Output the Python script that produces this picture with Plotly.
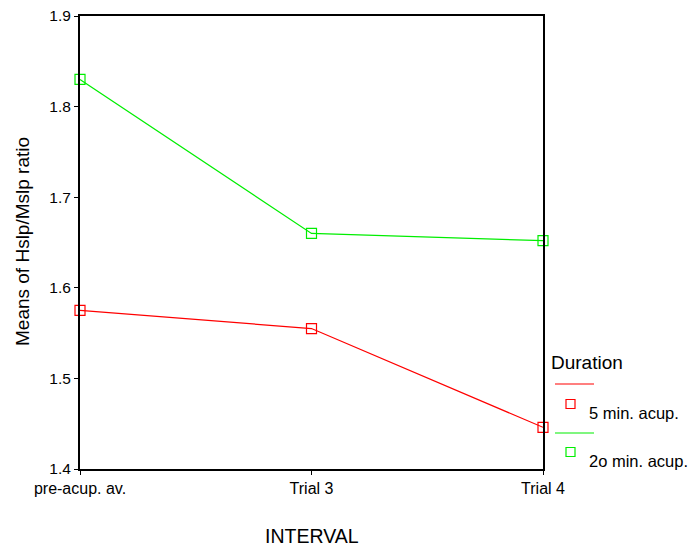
import plotly.graph_objects as go

categories = ["pre-acup. av.", "Trial 3", "Trial 4"]
series_names = ["5 min. acup.", "2o min. acup."]
values_5min = [1.575, 1.555, 1.446]
values_20min = [1.830, 1.660, 1.652]
y_ticks = [1.4, 1.5, 1.6, 1.7, 1.8, 1.9]

colors = ["#ff0000", "#00ee00"]

W, H = 689, 550
L, R, T, B = 80, 543, 16, 469

def px(x):
    return (x - L) / (R - L)

def py(y):
    return (B - y) / (B - T)

fig = go.Figure()
for name, vals, col in zip(series_names, [values_5min, values_20min], colors):
    fig.add_trace(go.Scatter(
        x=categories, y=vals, mode="lines+markers", name=name,
        line=dict(color=col, width=1.2),
        marker=dict(symbol="square-open", size=10, color=col, line=dict(width=1.2, color=col)),
        cliponaxis=False, showlegend=False,
    ))

font = "Liberation Sans, Arial, sans-serif"

shapes = []
annotations = []
# axis titles
annotations.append(dict(text="INTERVAL", x=px(312), y=py(536), xref="paper", yref="paper",
                        xanchor="center", yanchor="middle", showarrow=False,
                        font=dict(family=font, size=19.5, color="black")))
annotations.append(dict(text="Means of Hslp/Mslp ratio", x=px(22), y=py(242), xref="paper", yref="paper",
                        xanchor="center", yanchor="middle", showarrow=False, textangle=-90,
                        font=dict(family=font, size=19, color="black")))
# custom legend
annotations.append(dict(text="Duration", x=px(549), y=py(362), xref="paper", yref="paper",
                        xanchor="left", yanchor="middle", showarrow=False,
                        font=dict(family=font, size=19, color="black")))
leg_rows = [(384, 404, 413), (433, 452, 461)]
for (ly, sy, ty), name, col in zip(leg_rows, series_names, colors):
    shapes.append(dict(type="line", xref="paper", yref="paper",
                       x0=px(555), x1=px(594), y0=py(ly), y1=py(ly),
                       line=dict(color=col, width=1.2)))
    shapes.append(dict(type="rect", xref="paper", yref="paper",
                       x0=px(566), x1=px(575), y0=py(sy + 4.5), y1=py(sy - 4.5),
                       line=dict(color=col, width=1.2)))
    annotations.append(dict(text=name, x=px(587), y=py(ty), xref="paper", yref="paper",
                            xanchor="left", yanchor="middle", showarrow=False,
                            font=dict(family=font, size=16.5, color="black")))

fig.update_layout(
    width=W, height=H,
    margin=dict(l=L, r=W - R, t=T, b=H - B, pad=0),
    paper_bgcolor="white", plot_bgcolor="white",
    font=dict(family=font, size=15, color="black"),
    shapes=shapes, annotations=annotations,
    showlegend=False,
    xaxis=dict(
        type="category", range=[0, 2], showgrid=False, zeroline=False, automargin=False,
        showline=True, linecolor="black", linewidth=2, mirror=True,
        ticks="outside", ticklen=4, tickcolor="black", tickwidth=1,
        tickfont=dict(size=16),
    ),
    yaxis=dict(
        range=[1.4, 1.9], tickvals=y_ticks, ticktext=[f"{v:.1f}" for v in y_ticks],
        showgrid=False, zeroline=False, automargin=False,
        showline=True, linecolor="black", linewidth=2, mirror=True,
        ticks="outside", ticklen=4, tickcolor="black", tickwidth=1,
        tickfont=dict(size=15.5),
    ),
)

fig.write_html("out.html", config={"displayModeBar": False},
               post_script="document.body.style.margin='0';")
